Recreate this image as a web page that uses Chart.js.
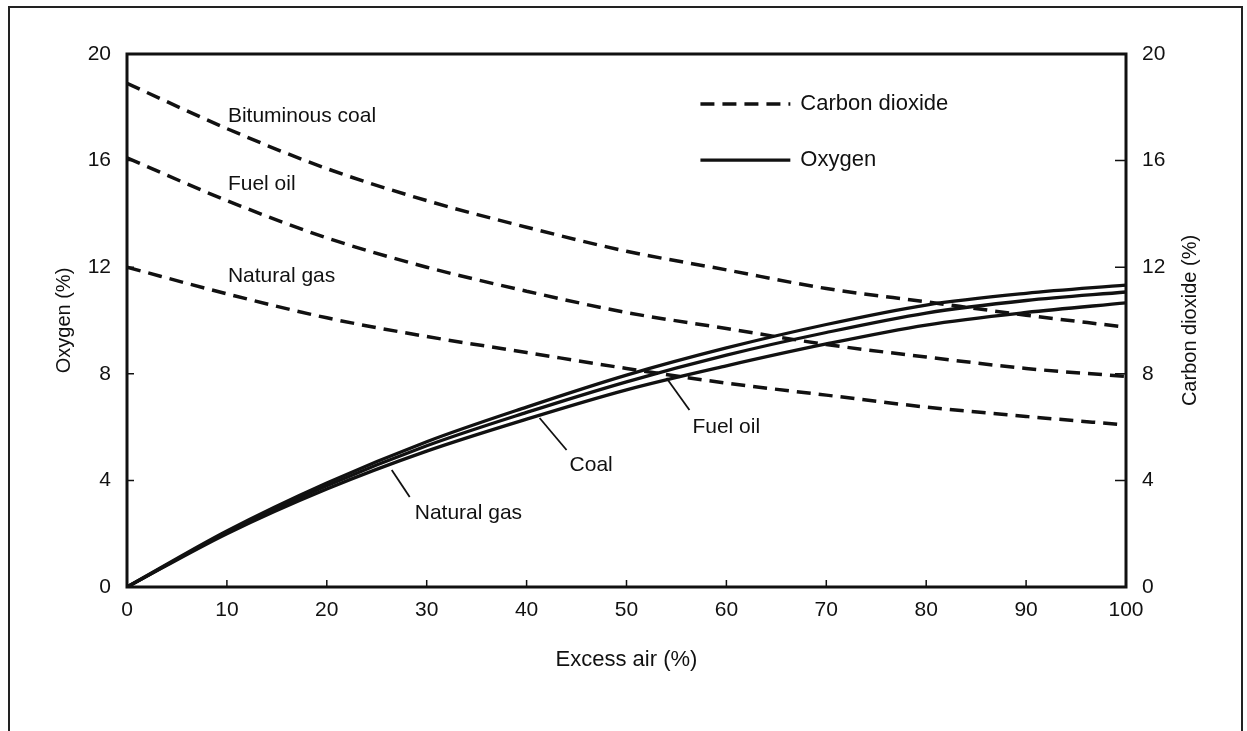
<!DOCTYPE html>
<html>
<head>
<meta charset="utf-8">
<title>Oxygen and carbon dioxide vs excess air</title>
<script src="https://cdn.jsdelivr.net/npm/chart.js@4.4.1/dist/chart.umd.min.js"></script>
<style>
    body { margin: 0; background: #fff; }
    canvas { display: block; }
</style>
</head>
<body>
<canvas id="fuelChart" width="1247" height="731"></canvas>
<script>
// Excess air (%) - x positions of the readings
const excessAir = [0, 10, 20, 30, 40, 50, 60, 70, 80, 90, 100];

// Carbon dioxide (%) - right axis, dashed
const co2Bituminous = [18.9, 17.2, 15.7, 14.5, 13.5, 12.6, 11.9, 11.2, 10.7, 10.2, 9.75];
const co2FuelOil    = [16.1, 14.5, 13.1, 12.0, 11.1, 10.3, 9.7, 9.1, 8.63, 8.2, 7.9];
const co2NaturalGas = [12.0, 11.0, 10.1, 9.4, 8.8, 8.2, 7.65, 7.2, 6.75, 6.4, 6.08];

// Oxygen (%) - left axis, solid
const o2NaturalGas = [0, 2.1, 3.9, 5.45, 6.75, 7.95, 8.97, 9.85, 10.58, 11.02, 11.33];
const o2FuelOil    = [0, 2.05, 3.8, 5.3, 6.55, 7.7, 8.7, 9.55, 10.28, 10.75, 11.07];
const o2Coal       = [0, 2.0, 3.68, 5.1, 6.3, 7.4, 8.3, 9.12, 9.83, 10.3, 10.66];

// Tick values
const xTicks = [0, 10, 20, 30, 40, 50, 60, 70, 80, 90, 100];
const yTicks = [0, 4, 8, 12, 16, 20];

const FONT = "'Liberation Sans', Arial, sans-serif";
const INK = '#111';

Chart.defaults.font.family = FONT;
Chart.defaults.color = INK;

const toPoints = arr => arr.map((v, i) => ({ x: excessAir[i], y: v }));

const dashed = (label, arr) => ({
    label: label,
    data: toPoints(arr),
    yAxisID: 'y2',
    borderColor: INK,
    borderWidth: 3.5,
    borderDash: [14, 8],
    pointRadius: 0,
    cubicInterpolationMode: 'monotone',
    fill: false
});

const solid = (label, arr) => ({
    label: label,
    data: toPoints(arr),
    yAxisID: 'y',
    borderColor: INK,
    borderWidth: 3.3,
    pointRadius: 0,
    cubicInterpolationMode: 'monotone',
    fill: false
});

// annotation labels, in data units (x: excess air, y: percent)
const curveLabels = [
    { text: 'Bituminous coal', x: 10.1, y: 17.67 },
    { text: 'Fuel oil', x: 10.1, y: 15.12 },
    { text: 'Natural gas', x: 10.1, y: 11.67 },
    { text: 'Fuel oil', x: 56.6, y: 6.0, from: [54.0, 7.84], to: [56.3, 6.64] },
    { text: 'Coal', x: 44.3, y: 4.58, from: [41.3, 6.34], to: [44.0, 5.14] },
    { text: 'Natural gas', x: 28.8, y: 2.78, from: [26.5, 4.39], to: [28.3, 3.38] }
];

const framePlugin = {
    id: 'framePlugin',
    afterDatasetsDraw(chart) {
        const { ctx, chartArea: a, scales } = chart;
        const sx = scales.x, sy = scales.y, sy2 = scales.y2;
        ctx.save();

        // outer border of the figure
        ctx.strokeStyle = '#222';
        ctx.lineWidth = 2;
        ctx.beginPath();
        ctx.moveTo(9, 731);
        ctx.lineTo(9, 7);
        ctx.lineTo(1242, 7);
        ctx.lineTo(1242, 731);
        ctx.stroke();

        // plot box
        ctx.strokeStyle = INK;
        ctx.lineWidth = 3;
        ctx.strokeRect(a.left, a.top, a.right - a.left, a.bottom - a.top);

        // inward tick marks
        ctx.lineWidth = 1.5;
        ctx.beginPath();
        sx.ticks.forEach(t => {
            if (t.value === 0 || t.value === 100) return;
            const px = sx.getPixelForValue(t.value);
            ctx.moveTo(px, a.bottom);
            ctx.lineTo(px, a.bottom - 7);
        });
        sy.ticks.forEach(t => {
            if (t.value === 0 || t.value === 20) return;
            const py = sy.getPixelForValue(t.value);
            ctx.moveTo(a.left, py);
            ctx.lineTo(a.left + 7, py);
        });
        sy2.ticks.forEach(t => {
            if (t.value === 0 || t.value === 20) return;
            const py = sy2.getPixelForValue(t.value);
            ctx.moveTo(a.right, py);
            ctx.lineTo(a.right - 11, py);
        });
        ctx.stroke();

        // curve labels and pointers
        ctx.font = '21px ' + FONT;
        ctx.fillStyle = INK;
        ctx.textAlign = 'left';
        ctx.textBaseline = 'middle';
        curveLabels.forEach(l => {
            ctx.fillText(l.text, sx.getPixelForValue(l.x), sy.getPixelForValue(l.y));
            if (l.from) {
                ctx.lineWidth = 1.8;
                ctx.beginPath();
                ctx.moveTo(sx.getPixelForValue(l.from[0]), sy.getPixelForValue(l.from[1]));
                ctx.lineTo(sx.getPixelForValue(l.to[0]), sy.getPixelForValue(l.to[1]));
                ctx.stroke();
            }
        });

        // legend
        const lx0 = sx.getPixelForValue(57.4), lx1 = sx.getPixelForValue(66.4);
        const ly1 = sy.getPixelForValue(18.12), ly2 = sy.getPixelForValue(16.02);
        ctx.lineWidth = 3.5;
        ctx.setLineDash([14, 8]);
        ctx.beginPath();
        ctx.moveTo(lx0, ly1);
        ctx.lineTo(lx1, ly1);
        ctx.stroke();
        ctx.setLineDash([]);
        ctx.lineWidth = 3.3;
        ctx.beginPath();
        ctx.moveTo(lx0, ly2);
        ctx.lineTo(lx1, ly2);
        ctx.stroke();
        ctx.font = '22px ' + FONT;
        ctx.fillText('Carbon dioxide', lx1 + 10, ly1);
        ctx.fillText('Oxygen', lx1 + 10, ly2);

        // right axis title reads bottom to top
        ctx.translate(1190, (a.top + a.bottom) / 2);
        ctx.rotate(-Math.PI / 2);
        ctx.textAlign = 'center';
        ctx.font = '20px ' + FONT;
        ctx.fillText('Carbon dioxide (%)', 0, 0);
        ctx.restore();
    }
};

const tickFont = { size: 21, family: FONT };

new Chart(document.getElementById('fuelChart'), {
    type: 'line',
    data: {
        datasets: [
            dashed('Bituminous coal CO2', co2Bituminous),
            dashed('Fuel oil CO2', co2FuelOil),
            dashed('Natural gas CO2', co2NaturalGas),
            solid('Natural gas O2', o2NaturalGas),
            solid('Fuel oil O2', o2FuelOil),
            solid('Coal O2', o2Coal)
        ]
    },
    options: {
        responsive: false,
        animation: false,
        layout: { padding: { top: 54, left: 0, right: 0, bottom: 0 } },
        plugins: {
            legend: { display: false },
            tooltip: { enabled: false }
        },
        scales: {
            x: {
                type: 'linear',
                min: 0,
                max: 100,
                afterBuildTicks: s => { s.ticks = xTicks.map(v => ({ value: v })); },
                afterFit: s => { s.height = 144; },
                grid: { display: false, drawTicks: false },
                border: { display: false },
                ticks: { font: tickFont, color: INK, padding: 11, maxRotation: 0 },
                title: {
                    display: true,
                    text: 'Excess air (%)',
                    font: { size: 22, family: FONT },
                    color: INK,
                    padding: { top: 0, bottom: 58 }
                }
            },
            y: {
                position: 'left',
                min: 0,
                max: 20,
                afterBuildTicks: s => { s.ticks = yTicks.map(v => ({ value: v })); },
                afterFit: s => { s.width = 127; },
                grid: { display: false, drawTicks: false },
                border: { display: false },
                ticks: { font: tickFont, color: INK, padding: 16 },
                title: {
                    display: true,
                    text: 'Oxygen (%)',
                    font: { size: 20, family: FONT },
                    color: INK,
                    padding: { top: 52, bottom: 0 }
                }
            },
            y2: {
                position: 'right',
                min: 0,
                max: 20,
                afterBuildTicks: s => { s.ticks = yTicks.map(v => ({ value: v })); },
                afterFit: s => { s.width = 121; },
                grid: { display: false, drawTicks: false },
                border: { display: false },
                ticks: { font: tickFont, color: INK, padding: 16 }
            }
        }
    },
    plugins: [framePlugin]
});
</script>
</body>
</html>
